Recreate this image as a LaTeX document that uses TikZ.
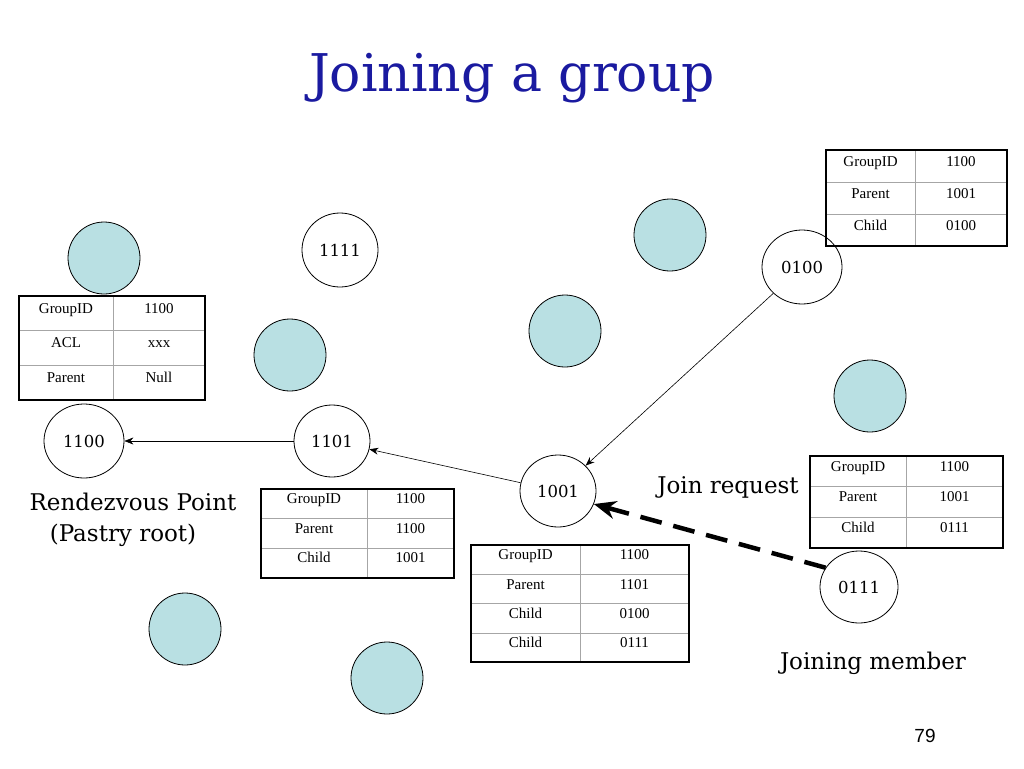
\documentclass[tikz,border=0pt]{standalone}
\usepackage{fontspec}
\setmainfont{DejaVu Serif}
\newfontfamily\tabfont{Liberation Serif}
\newfontfamily\numfont{Liberation Sans}
\usetikzlibrary{arrows.meta,shapes.geometric}
\definecolor{teal}{HTML}{B9E0E3}
\definecolor{titleblue}{HTML}{1A1AA0}
\tikzset{
 peer/.style={circle,draw,fill=teal,minimum size=72pt,line width=0.8pt,inner sep=0},
 gnode/.style={ellipse,draw,fill=white,line width=0.8pt,font=\fontsize{16.5}{20}\selectfont},
 lbl/.style={font=\fontsize{23}{27}\selectfont},
 cell/.style={font=\tabfont\fontsize{15}{17}\selectfont,text height=1.5ex,text depth=0.3ex,inner sep=0},
 link/.style={-{Stealth[length=9pt,width=7pt]},line width=0.6pt},
}
% table: name, x1, y1, x2, xsplit, rowheight, list of key/val
\newcommand\ptable[7]{%
 \foreach [count=\i] \k/\v in {#7}{%
   \pgfmathsetmacro\ya{#3+(\i-1)*#6}\pgfmathsetmacro\yb{#3+\i*#6}%
   \draw[gray!70,line width=0.6pt] (#2,\yb) -- (#4,\yb);
   \node[cell] (#1k\i) at ({(#2+#5)/2},{(\ya+\yb)/2-3}) {\k};
   \node[cell] (#1v\i) at ({(#5+#4)/2},{(\ya+\yb)/2-3}) {\v};
   \xdef\lasty{\yb}}%
 \draw[gray!70,line width=0.6pt] (#5,#3) -- (#5,\lasty);
 \draw[line width=2pt] (#2,#3) rectangle (#4,\lasty);}
\begin{document}
\begin{tikzpicture}[x=1pt,y=-1pt]
\useasboundingbox (0,0) rectangle (1024,768);
\node[font=\fontsize{52}{60}\selectfont,text=titleblue] (title) at (512,78) {Joining a group};
\foreach \n/\x/\y in {p1/104/258,p2/290/355,p3/565/331,p4/670/235,p5/870/396,p6/185/629,p7/387/678}
  \node[peer] (\n) at (\x,\y) {};
\node[gnode,minimum width=76pt,minimum height=74pt] (n1111) at (340,250) {1111};
\node[gnode,minimum width=80pt,minimum height=74pt] (n0100) at (802,267) {0100};
\node[gnode,minimum width=80pt,minimum height=74pt] (n1100) at (84,441) {1100};
\node[gnode,minimum width=76pt,minimum height=72pt] (n1101) at (332,441) {1101};
\node[gnode,minimum width=76pt,minimum height=72pt] (n1001) at (558,491) {1001};
\node[gnode,minimum width=78pt,minimum height=72pt] (n0111) at (859,587) {0111};
\ptable{A}{826}{150}{1007}{915}{32}{GroupID/1100,Parent/1001,Child/0100}
\ptable{B}{19}{296}{205}{113}{34.5}{GroupID/1100,ACL/xxx,Parent/Null}
\ptable{C}{261}{489}{454}{367}{29.5}{GroupID/1100,Parent/1100,Child/1001}
\ptable{D}{471}{545}{689}{580}{29.3}{GroupID/1100,Parent/1101,Child/0100,Child/0111}
\ptable{E}{810}{456}{1003}{906}{30.5}{GroupID/1100,Parent/1001,Child/0111}
\draw[link] (n0100) -- (n1001);
\draw[link] (n1101) -- (n1100);
\draw[link] (n1001) -- (n1101);
\draw[-{Stealth[length=22pt,width=18pt]},line width=4.5pt,dash pattern=on 22pt off 12pt] (n0111.150) -- (n1001.-20);
\node[lbl] (jr) at (728,487) {Join request};
\node[lbl] (rp) at (133,502) {Rendezvous Point};
\node[lbl] (pr) at (123,535) {(Pastry root)};
\node[lbl] (jm) at (873,663) {Joining member};
\node[font=\numfont\fontsize{19}{20}\selectfont] (pg) at (925,736) {79};
\end{tikzpicture}
\end{document}
